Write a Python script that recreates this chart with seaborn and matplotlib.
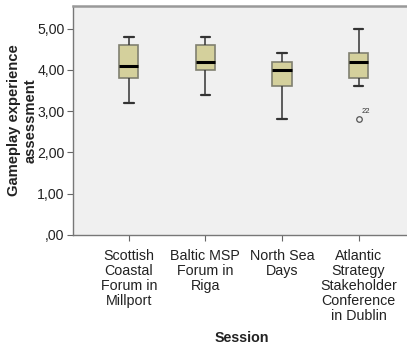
import pandas as pd
import matplotlib
matplotlib.use("Agg")
import matplotlib.pyplot as plt
from matplotlib.ticker import FuncFormatter
import seaborn as sns

# session names (as printed under the axis)
sessions = [
    "Scottish\nCoastal\nForum in\nMillport",
    "Baltic MSP\nForum in\nRiga",
    "North Sea\nDays",
    "Atlantic\nStrategy\nStakeholder\nConference\nin Dublin",
]

# assessment scores per session
scottish = [3.2, 3.6, 3.8, 4.0, 4.1, 4.4, 4.6, 4.8, 4.8]
baltic = [3.4, 3.8, 4.0, 4.0, 4.2, 4.4, 4.6, 4.6, 4.8]
north_sea = [2.8, 3.4, 3.6, 3.8, 4.0, 4.0, 4.2, 4.4, 4.4]
atlantic = [2.8, 3.6, 3.8, 4.0, 4.2, 4.2, 4.4, 4.6, 5.0]

# case number of the outlier in the Atlantic session
outlier_case = 22
outlier_value = 2.8

rows = []
for name, vals in zip(sessions, [scottish, baltic, north_sea, atlantic]):
    for v in vals:
        rows.append({"Session": name, "score": v})
df = pd.DataFrame(rows)

sns.set_style("white")
plt.rcParams["font.family"] = ["Liberation Sans", "DejaVu Sans"]

fig = plt.figure(figsize=(4.07, 3.5), dpi=100)
ax = fig.add_axes([0.179, 0.329, 0.83, 0.654])
ax.set_facecolor("#f0f0f0")

sns.boxplot(
    data=df, x="Session", y="score", ax=ax,
    color="#d4d09c", saturation=1, width=0.25,
    linecolor="#333333", linewidth=1.1,
    boxprops={"edgecolor": "#808070", "linewidth": 1.2},
    medianprops={"color": "black", "linewidth": 2.2},
    whiskerprops={"color": "#333333", "linewidth": 1.1},
    capprops={"color": "#333333", "linewidth": 1.6},
    flierprops={"marker": "o", "markersize": 4, "markerfacecolor": "none",
                "markeredgecolor": "#555555", "markeredgewidth": 0.9},
)

ax.annotate(str(outlier_case), xy=(3, outlier_value), xytext=(2, 3),
            textcoords="offset points", fontsize=5.5, color="#333333",
            ha="left", va="bottom")

ax.set_xlim(-0.73, 3.68)
ax.set_ylim(0, 5.55)
ax.set_yticks([0, 1, 2, 3, 4, 5])


def comma_fmt(v, pos):
    s = f"{v:.2f}".replace(".", ",")
    if s.startswith("0,"):
        s = s[1:]
    return s


ax.yaxis.set_major_formatter(FuncFormatter(comma_fmt))

ax.tick_params(axis="y", which="both", left=True, length=4.5, width=0.8,
               color="#666666", pad=1.5, labelsize=10.2, labelcolor="#222222")
ax.tick_params(axis="x", which="both", bottom=True, length=4, width=0.8,
               color="#666666", pad=6.0, labelsize=10.3, labelcolor="#222222")

for lbl in ax.get_xticklabels():
    lbl.set_linespacing(1.1)

for side in ["left", "bottom"]:
    ax.spines[side].set_color("#777777")
    ax.spines[side].set_linewidth(1.0)
ax.spines["top"].set_color("#999999")
ax.spines["top"].set_linewidth(1.8)
ax.spines["right"].set_visible(False)

ax.set_xlabel("Session", fontsize=10.3, fontweight="bold", color="#222222",
              labelpad=6)
ax.set_ylabel("Gameplay experience\nassessment", fontsize=10.6,
              fontweight="bold", color="#222222", labelpad=0, linespacing=1.2)

fig.savefig("out.png", dpi=100)
plt.close(fig)
